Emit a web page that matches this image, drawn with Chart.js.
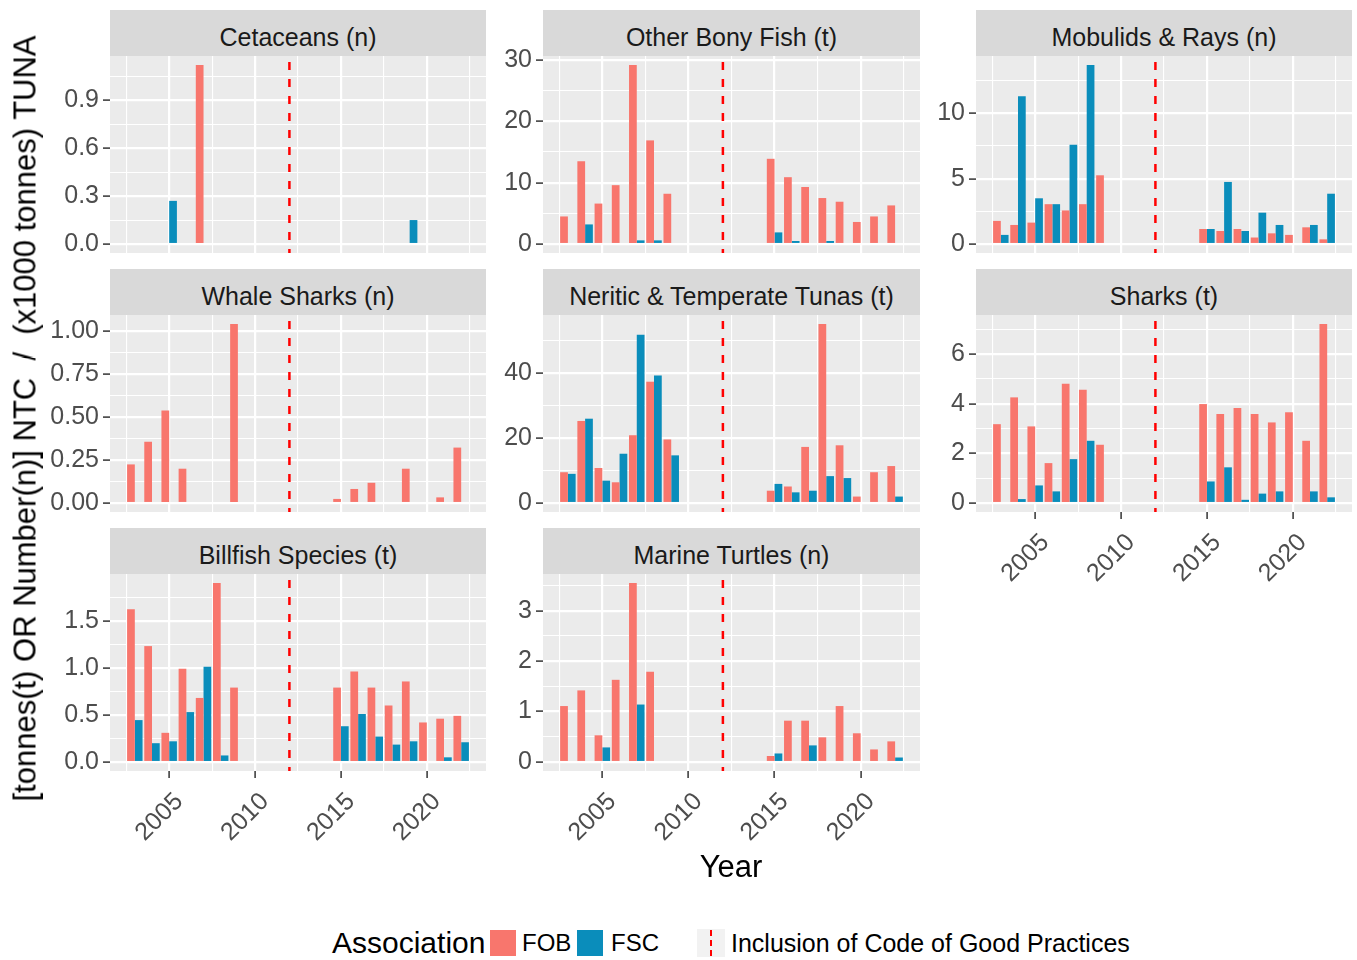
<!DOCTYPE html>
<html>
<head>
<meta charset="utf-8">
<script src="https://cdn.jsdelivr.net/npm/chart.js@4.4.1/dist/chart.umd.min.js"></script>
<style>
  body { margin: 0; background: #fff; font-family: "Liberation Sans", Arial, sans-serif; }
  #page { position: relative; width: 1357px; height: 960px; overflow: hidden; }
  canvas { position: absolute; }
  .strip { position: absolute; background: #D9D9D9; color: #1A1A1A; font-size: 25px; box-sizing: border-box;
           padding-top: 8px; display: flex; align-items: center; justify-content: center; }
  .txt { position: absolute; white-space: nowrap; color: #000; }
</style>
</head>
<body>
<div id="page"></div>
<script>
// years with catch records (no data 2010-2014)
const years = [2003, 2004, 2005, 2006, 2007, 2008, 2009, 2015, 2016, 2017, 2018, 2019, 2020, 2021, 2022];

const cetaceansFOB = [null, null, null, null, 1.12, null, null, null, null, null, null, null, null, null, null];
const cetaceansFSC = [null, null, 0.27, null, null, null, null, null, null, null, null, 0.15, null, null, null];

const otherFishFOB = [4.5, 13.5, 6.6, 9.6, 29.2, 16.9, 8.2, 13.9, 10.9, 9.3, 7.5, 6.9, 3.6, 4.5, 6.3];
const otherFishFSC = [null, 3.2, null, null, 0.6, 0.6, null, 1.9, 0.5, null, 0.5, null, null, null, null];

const mobulidsFOB = [1.77, 1.46, 1.64, 3.05, 2.57, 3.05, 5.26, 1.15, 1.0, 1.15, 0.5, 0.82, 0.7, 1.28, 0.36];
const mobulidsFSC = [0.7, 11.3, 3.5, 3.05, 7.6, 13.7, null, 1.15, 4.75, 1.0, 2.4, 1.46, null, 1.46, 3.85];

const whaleFOB = [0.225, 0.357, 0.539, 0.2, null, null, 1.043, 0.024, 0.082, 0.118, null, 0.2, null, 0.033, 0.323];
const whaleFSC = [null, null, null, null, null, null, null, null, null, null, null, null, null, null, null];

const neriticFOB = [9.5, 25.3, 10.8, 6.4, 20.9, 37.4, 19.6, 3.8, 5.1, 17.3, 55.2, 17.8, 2.0, 9.5, 11.4];
const neriticFSC = [9.0, 26.0, 6.9, 15.2, 51.9, 39.3, 14.7, 5.9, 3.3, 3.8, 8.3, 7.7, null, null, 2.0];

const sharksFOB = [3.18, 4.26, 3.09, 1.61, 4.81, 4.57, 2.35, 3.99, 3.59, 3.83, 3.59, 3.25, 3.66, 2.51, 7.22];
const sharksFSC = [null, 0.16, 0.71, 0.47, 1.77, 2.51, null, 0.87, 1.44, 0.13, 0.38, 0.47, null, 0.47, 0.23];

const billfishFOB = [1.62, 1.23, 0.31, 0.99, 0.68, 1.9, 0.79, 0.79, 0.96, 0.79, 0.6, 0.855, 0.42, 0.46, 0.49];
const billfishFSC = [0.445, 0.2, 0.22, 0.53, 1.01, 0.07, null, 0.38, 0.51, 0.27, 0.185, 0.22, null, 0.05, 0.21];

const turtlesFOB = [1.11, 1.42, 0.53, 1.63, 3.55, 1.79, null, 0.12, 0.82, 0.82, 0.49, 1.11, 0.57, 0.25, 0.41];
const turtlesFSC = [null, null, 0.29, null, 1.14, null, null, 0.17, null, 0.33, null, null, null, null, 0.09];

// y tick labels per facet
const cetaceansTicks = [0, 0.3, 0.6, 0.9];
const otherFishTicks = [0, 10, 20, 30];
const mobulidsTicks = [0, 5, 10];
const whaleTicks = [0, 0.25, 0.5, 0.75, 1];
const neriticTicks = [0, 20, 40];
const sharksTicks = [0, 2, 4, 6];
const billfishTicks = [0, 0.5, 1, 1.5];
const turtlesTicks = [0, 1, 2, 3];

const xTickYears = [2005, 2010, 2015, 2020];
const codeYear = 2012; // Inclusion of Code of Good Practices

const FOB_COLOR = '#F8766D';
const FSC_COLOR = '#0A8DBB';
const FONT = '"Liberation Sans", Arial, sans-serif';

const colLeft = [110, 543, 976];
const colWidth = [376, 377, 376];
const stripTop = [10, 269, 528];
const STRIP_H = 46;
const PANEL_H = 197;
const YAXIS_W = 100;
const XAXIS_H = 90;
const PAD_TOP = 16;

const panels = [
    { title: 'Cetaceans (n)', fob: cetaceansFOB, fsc: cetaceansFSC, ticks: cetaceansTicks, dec: 1, col: 0, row: 0 },
    { title: 'Other Bony Fish (t)', fob: otherFishFOB, fsc: otherFishFSC, ticks: otherFishTicks, dec: 0, col: 1, row: 0 },
    { title: 'Mobulids & Rays (n)', fob: mobulidsFOB, fsc: mobulidsFSC, ticks: mobulidsTicks, dec: 0, col: 2, row: 0 },
    { title: 'Whale Sharks (n)', fob: whaleFOB, fsc: whaleFSC, ticks: whaleTicks, dec: 2, col: 0, row: 1 },
    { title: 'Neritic & Temperate Tunas (t)', fob: neriticFOB, fsc: neriticFSC, ticks: neriticTicks, dec: 0, col: 1, row: 1 },
    { title: 'Sharks (t)', fob: sharksFOB, fsc: sharksFSC, ticks: sharksTicks, dec: 0, col: 2, row: 1, showX: true },
    { title: 'Billfish Species (t)', fob: billfishFOB, fsc: billfishFSC, ticks: billfishTicks, dec: 1, col: 0, row: 2, showX: true },
    { title: 'Marine Turtles (n)', fob: turtlesFOB, fsc: turtlesFSC, ticks: turtlesTicks, dec: 0, col: 1, row: 2, showX: true }
];

// x range like ggplot: dodged bars (width 0.9) + 5% expansion
const dataLo = years[0] - 0.45, dataHi = years[years.length - 1] + 0.45;
const xMin = dataLo - 0.05 * (dataHi - dataLo);
const xMax = dataHi + 0.05 * (dataHi - dataLo);
const xAllTicks = [xTickYears[0] - 2.5];
xTickYears.forEach(v => xAllTicks.push(v, v + 2.5));

const panelBg = {
    id: 'panelBg',
    beforeDraw(chart) {
        const { ctx, chartArea: a } = chart;
        ctx.save();
        ctx.fillStyle = '#EBEBEB';
        ctx.fillRect(a.left, a.top, a.right - a.left, a.bottom - a.top);
        ctx.restore();
    }
};

const codeLine = {
    id: 'codeLine',
    afterDatasetsDraw(chart) {
        const { ctx, chartArea: a } = chart;
        const x = chart.scales.x.getPixelForValue(codeYear);
        ctx.save();
        ctx.strokeStyle = '#FF0000';
        ctx.lineWidth = 2.5;
        ctx.setLineDash([8, 9]);
        ctx.lineDashOffset = -6;
        ctx.beginPath();
        ctx.moveTo(x, a.top);
        ctx.lineTo(x, a.bottom);
        ctx.stroke();
        ctx.restore();
    }
};

const page = document.getElementById('page');

function makePanel(p) {
    const left = colLeft[p.col], w = colWidth[p.col];
    const top = stripTop[p.row] + STRIP_H;

    const strip = document.createElement('div');
    strip.className = 'strip';
    strip.style.left = left + 'px';
    strip.style.top = stripTop[p.row] + 'px';
    strip.style.width = w + 'px';
    strip.style.height = STRIP_H + 'px';
    strip.textContent = p.title;
    page.appendChild(strip);

    const canvas = document.createElement('canvas');
    const cw = YAXIS_W + w, ch = PAD_TOP + PANEL_H + (p.showX ? XAXIS_H : 0);
    canvas.width = cw; canvas.height = ch;
    canvas.style.left = (left - YAXIS_W) + 'px';
    canvas.style.top = (top - PAD_TOP) + 'px';
    canvas.style.width = cw + 'px';
    canvas.style.height = ch + 'px';
    page.appendChild(canvas);

    const vals = p.fob.concat(p.fsc).filter(v => v != null);
    const maxV = Math.max(...vals);
    const yMin = -0.05 * maxV, yMax = 1.05 * maxV;
    const step = p.ticks[1] - p.ticks[0];
    const yAll = p.ticks.slice();
    p.ticks.forEach(t => { if (t + step / 2 <= yMax) yAll.push(t + step / 2); });
    yAll.sort((a, b) => a - b);

    const xMajor = v => xTickYears.includes(v);
    const yMajor = v => p.ticks.includes(v);
    const tickVal = c => (c && c.tick) ? c.tick.value : NaN;

    new Chart(canvas, {
        type: 'bar',
        data: {
            datasets: [
                { label: 'FOB', data: years.map((x, i) => ({ x, y: p.fob[i] })), backgroundColor: FOB_COLOR,
                  borderWidth: 0, categoryPercentage: 0.9, barPercentage: 1 },
                { label: 'FSC', data: years.map((x, i) => ({ x, y: p.fsc[i] })), backgroundColor: FSC_COLOR,
                  borderWidth: 0, categoryPercentage: 0.9, barPercentage: 1 }
            ]
        },
        options: {
            responsive: false,
            animation: false,
            devicePixelRatio: 1,
            layout: { padding: { top: PAD_TOP, left: 0, right: 0, bottom: 0 } },
            plugins: { legend: { display: false }, tooltip: { enabled: false } },
            scales: {
                x: {
                    type: 'linear', min: xMin, max: xMax, offset: false,
                    afterBuildTicks: s => { s.ticks = xAllTicks.map(v => ({ value: v })); },
                    afterFit: s => { s.height = p.showX ? XAXIS_H : 0; s.paddingLeft = 0; s.paddingRight = 0; },
                    border: { display: false },
                    grid: {
                        offset: false,
                        color: '#FFFFFF',
                        lineWidth: c => xMajor(tickVal(c)) ? 2.2 : 1.1,
                        drawTicks: !!p.showX,
                        tickLength: 7,
                        tickWidth: 1.5,
                        tickColor: c => xMajor(tickVal(c)) ? '#333333' : 'rgba(0,0,0,0)'
                    },
                    ticks: {
                        display: !!p.showX, autoSkip: false, minRotation: 45, maxRotation: 45,
                        padding: 9, labelOffset: 10, color: '#4D4D4D',
                        font: { family: FONT, size: 25 },
                        callback: v => xMajor(v) ? String(v) : ''
                    }
                },
                y: {
                    min: yMin, max: yMax,
                    afterBuildTicks: s => { s.ticks = yAll.map(v => ({ value: v })); },
                    afterFit: s => { s.width = YAXIS_W; s.paddingTop = 0; s.paddingBottom = 0; },
                    border: { display: false },
                    grid: {
                        color: '#FFFFFF',
                        lineWidth: c => yMajor(tickVal(c)) ? 2.2 : 1.1,
                        tickLength: 7,
                        tickWidth: 1.5,
                        tickColor: c => yMajor(tickVal(c)) ? '#333333' : 'rgba(0,0,0,0)'
                    },
                    ticks: {
                        autoSkip: false, padding: 4, color: '#4D4D4D',
                        font: { family: FONT, size: 25 },
                        callback: v => yMajor(v) ? v.toFixed(p.dec) : ''
                    }
                }
            }
        },
        plugins: [panelBg, codeLine]
    });
}

panels.forEach(makePanel);

function addText(text, x, y, size, extra) {
    const el = document.createElement('div');
    el.className = 'txt';
    el.textContent = text;
    el.style.fontSize = size + 'px';
    el.style.left = x + 'px';
    el.style.top = y + 'px';
    el.style.lineHeight = size + 'px';
    if (extra) Object.assign(el.style, extra);
    page.appendChild(el);
    return el;
}

// axis titles
addText('Year', 731, 866 - 15, 31, { transform: 'translateX(-50%)', color: '#000' });
addText('[tonnes(t) OR Number(n)] NTC  /  (x1000 tonnes) TUNA', 25 - 450, 418 - 15, 31,
        { width: '900px', textAlign: 'center', transform: 'rotate(-90deg)', whiteSpace: 'pre' });

// legend
addText('Association', 332, 943 - 15, 30);
function swatch(x, color) {
    const el = document.createElement('div');
    Object.assign(el.style, { position: 'absolute', left: x + 'px', top: '930px', width: '26px', height: '26px', background: color });
    page.appendChild(el);
}
swatch(490, FOB_COLOR);
addText('FOB', 522, 943 - 12, 24);
swatch(577, FSC_COLOR);
addText('FSC', 611, 943 - 12, 24);
const key = document.createElement('div');
Object.assign(key.style, { position: 'absolute', left: '697px', top: '929px', width: '28px', height: '28px', background: '#F2F2F2' });
key.innerHTML = '<div style="position:absolute;left:13px;top:1px;width:0;height:26px;border-left:2.5px dashed #FF0000"></div>';
page.appendChild(key);
addText('Inclusion of Code of Good Practices', 731, 943 - 12, 25);
</script>
</body>
</html>
